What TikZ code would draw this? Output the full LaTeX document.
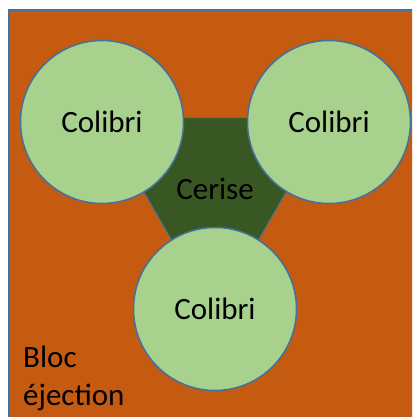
\documentclass[tikz,border=0pt]{standalone}
\usepackage{fontspec}
\setmainfont{Carlito}
\usetikzlibrary{shapes.geometric}
\definecolor{blocorange}{HTML}{C55A11}
\definecolor{colgreen}{HTML}{A9D18E}
\definecolor{cergreen}{HTML}{385723}
\definecolor{edgeblue}{HTML}{41719C}
\tikzset{
  colibri/.style={circle, draw=edgeblue, line width=1.5pt, fill=colgreen, minimum size=163pt, inner sep=0pt},
  hexa/.style={regular polygon, regular polygon sides=6, draw=edgeblue, line width=1pt, fill=cergreen, minimum size=152pt, inner sep=0pt},
  lbl/.style={font=\fontsize{31}{38}\selectfont, text=black, inner sep=0pt}
}
\begin{document}
\begin{tikzpicture}[x=1pt,y=-1pt]
\useasboundingbox (0,0) rectangle (412,417);
\clip (0,0) rectangle (412,417);
\fill[white] (0,0) rectangle (412,417);
\draw[draw=edgeblue, line width=1.5pt, fill=blocorange] (9,10) rectangle (440,440);
\node[hexa] (hex) at (215,183.5) {};
\node[colibri] (c1) at (102,122) {};
\node[colibri] (c2) at (329,122) {};
\node[colibri] (c3) at (215,309) {};
\node[lbl] (t1) at (c1.center) {Colibri};
\node[lbl] (t2) at (c2.center) {Colibri};
\node[lbl] (t3) at (c3.center) {Colibri};
\node[lbl] (cer) at (215,189) {Cerise};
\node[lbl, anchor=base west, align=left] (bloc) at (23,405) {Bloc\\éjection};
\end{tikzpicture}
\end{document}
